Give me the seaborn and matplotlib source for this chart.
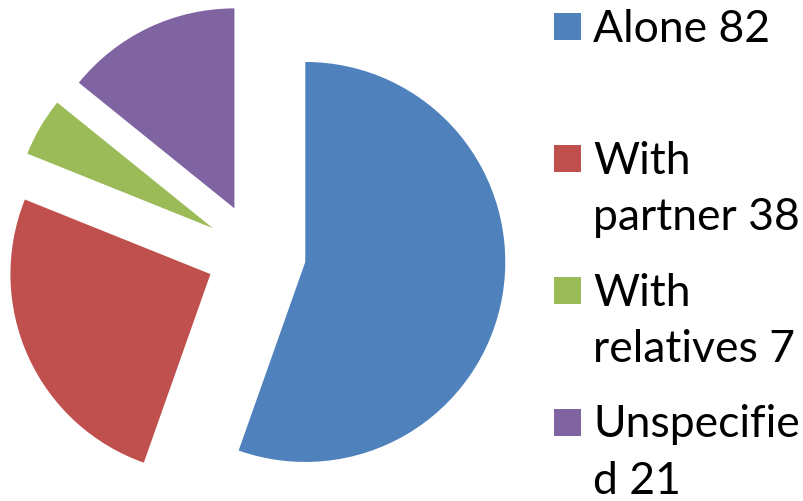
import matplotlib
matplotlib.use("Agg")
import matplotlib.pyplot as plt
import seaborn as sns
from matplotlib.patches import Rectangle

sns.set_theme(style="white")
plt.rcParams['font.family'] = ['Lato', 'DejaVu Sans']

categories = ["Alone", "With partner", "With relatives", "Unspecified"]
values = [82, 38, 7, 21]
legend_lines = [["Alone 82"], ["With", "partner 38"], ["With", "relatives 7"], ["Unspecifie", "d 21"]]
colors = ["#4F81BD", "#C0504D", "#9BBB59", "#8064A2"]

W, H = 804, 502
fig = plt.figure(figsize=(W / 100, H / 100), dpi=100)
ax = fig.add_axes([0, 0, 512 / W, 1])
ax.pie(values, colors=colors, startangle=90, counterclock=False,
       explode=[0.25] * len(values), radius=1,
       wedgeprops=dict(linewidth=0))
ax.set_aspect('auto')
ax.set_xlim(-1.28, 1.28)
ax.set_ylim(-1.2375, 1.2725)
ax.axis('off')

square_centers = [27.5, 159.5, 291.5, 423.5]
sq = 27
for c, col, lines in zip(square_centers, colors, legend_lines):
    fig.patches.append(Rectangle(((554) / W, 1 - (c + sq / 2) / H), sq / W, sq / H,
                                 transform=fig.transFigure, facecolor=col,
                                 edgecolor='none'))
    for i, line in enumerate(lines):
        base = c + 14 + 57 * i
        fig.text(593 / W, 1 - base / H, line, fontsize=32, color='black',
                 ha='left', va='baseline')

fig.savefig("out.png", dpi=100)
